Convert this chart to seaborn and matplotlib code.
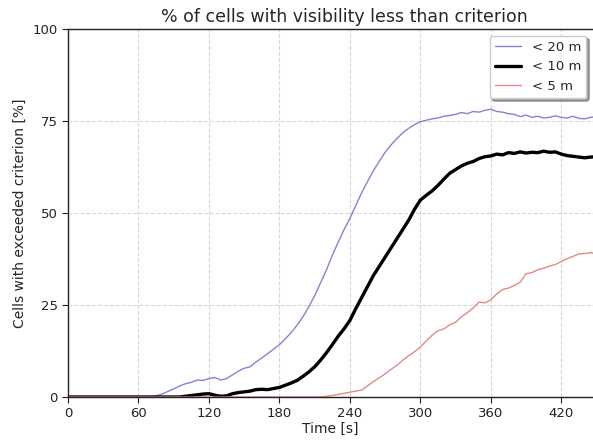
import matplotlib
matplotlib.use("Agg")
import matplotlib.pyplot as plt
import seaborn as sns
import pandas as pd

time_s = list(range(0, 451, 5))

vis_20m = [0]*14 + [
    0.1, 0.3, 0.8, 1.5, 2.2, 3.0, 3.6, 4.0, 4.6, 4.5, 5.0, 5.3, 4.6, 5.0, 6.0, 7.0,
    7.8, 8.2, 9.5, 10.6, 11.8, 13.0, 14.2, 15.8, 17.5, 19.5, 21.8, 24.5, 27.5, 31.0,
    34.5, 38.5, 42.0, 45.5, 48.5, 52.0, 55.5, 58.5, 61.5, 64.0, 66.5, 68.5, 70.2, 71.8,
    73.0, 74.0, 74.8, 75.2, 75.6, 75.8, 76.3, 76.5, 76.8, 77.3, 77.0, 77.6, 77.4, 77.9,
    78.2, 77.6, 77.4, 77.0, 76.8, 76.2, 76.6, 76.0, 76.3, 75.8, 76.0, 76.4, 76.0, 75.8,
    76.3, 75.7, 75.6, 76.0, 76.2]

vis_10m = [0]*20 + [
    0.2, 0.4, 0.6, 0.8, 0.9, 0.5, 0.2, 0.3, 0.9, 1.2, 1.4, 1.6, 2.0, 2.1, 2.0, 2.3,
    2.6, 3.2, 3.8, 4.5, 5.6, 6.8, 8.2, 10.0, 12.0, 14.2, 16.5, 18.5, 20.8, 24.0, 27.0,
    30.0, 33.0, 35.5, 38.0, 40.5, 43.0, 45.5, 48.0, 51.0, 53.5, 54.8, 56.0, 57.5, 59.2,
    60.8, 61.8, 62.8, 63.5, 64.0, 64.8, 65.3, 65.5, 66.0, 65.8, 66.4, 66.2, 66.6, 66.3,
    66.5, 66.4, 66.8, 66.5, 66.6, 66.0, 65.6, 65.4, 65.2, 65.0, 65.2, 65.3]

vis_5m = [0]*44 + [
    0.2, 0.4, 0.7, 1.0, 1.3, 1.6, 1.9, 3.0, 4.2, 5.2, 6.3, 7.5, 8.6, 10.0, 11.2, 12.3,
    13.6, 15.2, 16.8, 18.0, 18.5, 19.6, 20.3, 21.8, 22.9, 24.2, 25.8, 25.6, 26.4, 28.0,
    29.2, 29.6, 30.3, 31.2, 33.5, 33.8, 34.6, 35.0, 35.6, 36.0, 36.8, 37.6, 38.2, 38.9,
    39.0, 39.2, 39.0]

labels = ["< 20 m", "< 10 m", "< 5 m"]
x_ticks = [0, 60, 120, 180, 240, 300, 360, 420]
y_ticks = [0, 25, 50, 75, 100]

sns.set_style("white")
plt.rcParams['font.family'] = ['DejaVu Sans']

fig = plt.figure(figsize=(5.93, 4.41), dpi=100)
ax = fig.add_axes([68/593, 44/441, 1 - 68/593, 368/441])

df = pd.DataFrame({"t": time_s, "a": vis_20m, "b": vis_10m, "c": vis_5m})
sns.lineplot(data=df, x="t", y="a", ax=ax, color="#8383d4", lw=1.0, label=labels[0])
sns.lineplot(data=df, x="t", y="b", ax=ax, color="black", lw=2.4, label=labels[1])
sns.lineplot(data=df, x="t", y="c", ax=ax, color="#e28a86", lw=1.0, label=labels[2])

ax.set_xlim(0, 447)
ax.set_ylim(0, 100)
ax.set_xticks(x_ticks)
ax.set_yticks(y_ticks)
ax.grid(True, linestyle="--", color="#d8d8d8", lw=0.8)
ax.set_axisbelow(True)
ax.tick_params(axis="both", direction="out", length=4, labelsize=9.5, colors="#222222",
               left=True, bottom=True)
for s in ["left", "bottom", "top"]:
    ax.spines[s].set_color("#222222")
    ax.spines[s].set_linewidth(1.0)
ax.spines["right"].set_visible(False)
ax.set_xlabel("Time [s]", fontsize=10, labelpad=1)
ax.set_ylabel("Cells with exceeded criterion [%]", fontsize=10)
ax.set_title("% of cells with visibility less than criterion", fontsize=12.5, pad=5,
             x=(344.5 - 68) / 525)
ax.legend(loc="upper right", fontsize=9.5, frameon=True, fancybox=True, shadow=True,
          borderaxespad=0.5, handlelength=2.0)

fig.savefig("out.png", dpi=100)
